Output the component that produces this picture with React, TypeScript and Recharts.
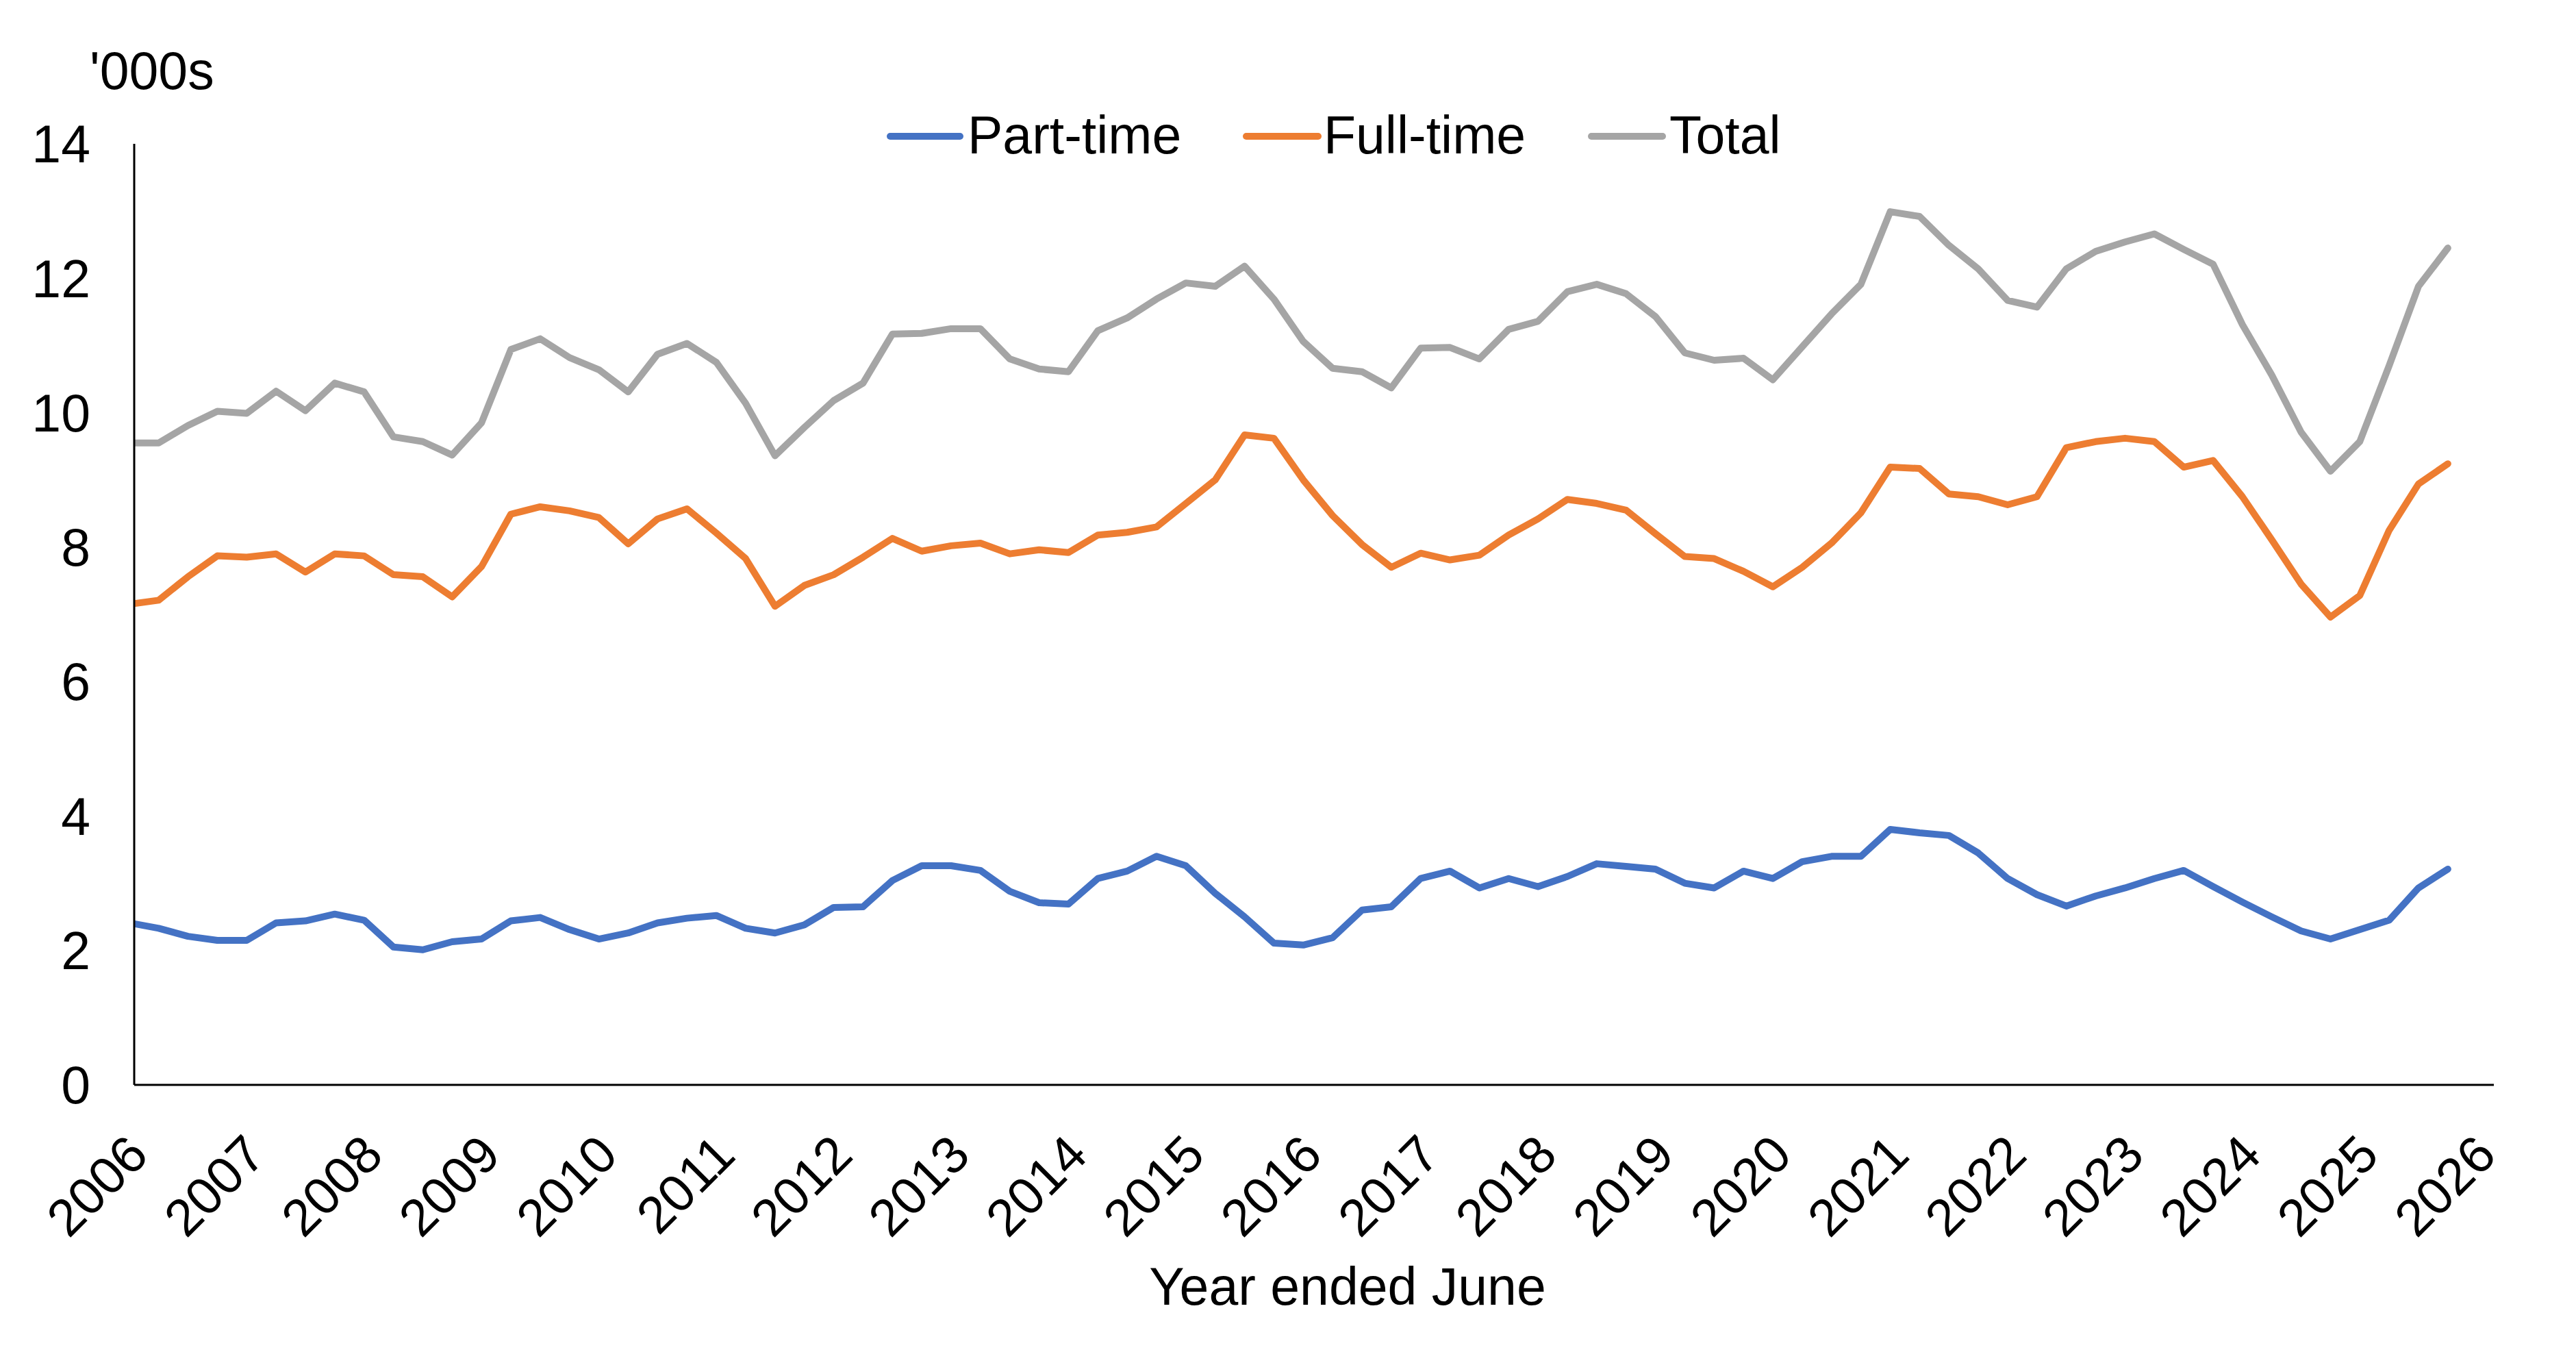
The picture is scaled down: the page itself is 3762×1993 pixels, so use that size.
import { Line, LineChart, XAxis, YAxis } from 'recharts';

const WIDTH = 3762;
const HEIGHT = 1993;
const FONT = '"Liberation Sans", Arial, Helvetica, sans-serif';

const BLUE = '#4472C4';
const ORANGE = '#ED7D31';
const GREY = '#A5A5A5';

// Quarter ends (year-month), rolling annual figures
const quarterEnds = [
  '2005-12', '2006-03', '2006-06', '2006-09', '2006-12', '2007-03', '2007-06', '2007-09', '2007-12', '2008-03',
  '2008-06', '2008-09', '2008-12', '2009-03', '2009-06', '2009-09', '2009-12', '2010-03', '2010-06', '2010-09',
  '2010-12', '2011-03', '2011-06', '2011-09', '2011-12', '2012-03', '2012-06', '2012-09', '2012-12', '2013-03',
  '2013-06', '2013-09', '2013-12', '2014-03', '2014-06', '2014-09', '2014-12', '2015-03', '2015-06', '2015-09',
  '2015-12', '2016-03', '2016-06', '2016-09', '2016-12', '2017-03', '2017-06', '2017-09', '2017-12', '2018-03',
  '2018-06', '2018-09', '2018-12', '2019-03', '2019-06', '2019-09', '2019-12', '2020-03', '2020-06', '2020-09',
  '2020-12', '2021-03', '2021-06', '2021-09', '2021-12', '2022-03', '2022-06', '2022-09', '2022-12', '2023-03',
  '2023-06', '2023-09', '2023-12', '2024-03', '2024-06', '2024-09', '2024-12', '2025-03', '2025-06', '2025-09',
];

// '000s
const partTime = [
  2.41, 2.33, 2.21, 2.15, 2.15, 2.41, 2.44, 2.54, 2.45, 2.05,
  2.01, 2.13, 2.17, 2.44, 2.49, 2.31, 2.17, 2.26, 2.41, 2.48,
  2.52, 2.33, 2.26, 2.38, 2.64, 2.65, 3.04, 3.26, 3.26, 3.19,
  2.88, 2.71, 2.69, 3.07, 3.18, 3.4, 3.26, 2.85, 2.5, 2.11,
  2.08, 2.19, 2.6, 2.65, 3.07, 3.18, 2.93, 3.07, 2.95, 3.1,
  3.29, 3.25, 3.21, 3.0, 2.93, 3.18, 3.07, 3.32, 3.4, 3.4,
  3.8, 3.75, 3.71, 3.45, 3.07, 2.83, 2.66, 2.81, 2.93, 3.07,
  3.19, 2.95, 2.72, 2.5, 2.29, 2.17, 2.31, 2.45, 2.93, 3.21,
];

const fullTime = [
  7.15, 7.21, 7.56, 7.87, 7.85, 7.9, 7.63, 7.9, 7.87, 7.59,
  7.56, 7.26, 7.71, 8.49, 8.6, 8.54, 8.44, 8.05, 8.42, 8.57,
  8.21, 7.83, 7.12, 7.43, 7.59, 7.85, 8.13, 7.94, 8.02, 8.06,
  7.9, 7.96, 7.92, 8.18, 8.22, 8.3, 8.65, 9.0, 9.67, 9.62,
  9.0, 8.47, 8.04, 7.7, 7.91, 7.81, 7.88, 8.18, 8.42, 8.71,
  8.65, 8.55, 8.2, 7.86, 7.83, 7.64, 7.41, 7.7, 8.06, 8.51,
  9.19, 9.17, 8.79, 8.75, 8.63, 8.75, 9.48, 9.57, 9.62, 9.57,
  9.19, 9.29, 8.75, 8.11, 7.45, 6.96, 7.28, 8.25, 8.94, 9.24,
];

const total = [
  9.55, 9.55, 9.81, 10.02, 9.99, 10.32, 10.03, 10.44, 10.31, 9.64,
  9.57, 9.37, 9.85, 10.94, 11.1, 10.82, 10.64, 10.31, 10.87, 11.03,
  10.75, 10.14, 9.36, 9.78, 10.18, 10.44, 11.17, 11.18, 11.25, 11.25,
  10.8, 10.65, 10.61, 11.22, 11.41, 11.69, 11.93, 11.88, 12.18, 11.69,
  11.06, 10.66, 10.61, 10.37, 10.96, 10.97, 10.8, 11.24, 11.36, 11.8,
  11.91, 11.77, 11.43, 10.89, 10.78, 10.81, 10.49, 10.98, 11.47, 11.91,
  12.99, 12.92, 12.49, 12.14, 11.67, 11.57, 12.14, 12.4, 12.54, 12.66,
  12.43, 12.21, 11.31, 10.56, 9.71, 9.13, 9.57, 10.7, 11.88, 12.45,
];

const yearTicks = [
  2006, 2007, 2008, 2009, 2010, 2011, 2012, 2013, 2014, 2015, 2016,
  2017, 2018, 2019, 2020, 2021, 2022, 2023, 2024, 2025, 2026,
];
const valueTicks = [0, 2, 4, 6, 8, 10, 12, 14];

const legendItems = [
  { label: 'Part-time', color: BLUE },
  { label: 'Full-time', color: ORANGE },
  { label: 'Total', color: GREY },
];

// each quarter is plotted at the middle of its closing month, in decimal years
const data = quarterEnds.map((q, i) => {
  const [year, month] = q.split('-').map(Number);
  return {
    quarter: q,
    t: year + (month - 0.5) / 12,
    partTime: partTime[i],
    fullTime: fullTime[i],
    total: total[i],
  };
});

function YearTick(props: any) {
  const { x, y, payload } = props;
  const ax = x + 24;
  const ay = y + 106;
  return (
    <text
      x={ax}
      y={ay}
      transform={`rotate(-45, ${ax}, ${ay})`}
      textAnchor="end"
      fontSize={76}
      fontFamily={FONT}
      fill="#000"
    >
      {payload.value}
    </text>
  );
}

// legend swatch/label positions along the top row
const legendLayout = [
  { x1: 1300, x2: 1402, tx: 1413 },
  { x1: 1820, x2: 1925, tx: 1933 },
  { x1: 2324, x2: 2428, tx: 2438 },
];

const lineProps = {
  strokeWidth: 10,
  strokeLinejoin: 'round' as const,
  strokeLinecap: 'round' as const,
  dot: false,
  activeDot: false,
  isAnimationActive: false,
};

export default function App() {
  return (
    <div
      style={{
        position: 'absolute',
        left: 0,
        top: 0,
        width: WIDTH,
        height: HEIGHT,
        background: '#fff',
      }}
    >
      <LineChart
        width={WIDTH}
        height={HEIGHT}
        data={data}
        margin={{ top: 210, right: 120, bottom: 209, left: 0 }}
      >
        <XAxis
          dataKey="t"
          type="number"
          domain={[2006, 2026.1]}
          ticks={yearTicks}
          interval={0}
          allowDataOverflow
          height={200}
          tickLine={false}
          tickSize={0}
          tickMargin={0}
          axisLine={{ stroke: '#000', strokeWidth: 3 }}
          tick={(p: any) => <YearTick {...p} />}
        />
        <YAxis
          type="number"
          domain={[0, 14]}
          ticks={valueTicks}
          interval={0}
          width={196}
          tickLine={false}
          tickSize={0}
          tickMargin={64}
          axisLine={{ stroke: '#000', strokeWidth: 3 }}
          tick={{ fill: '#000', fontSize: 77, fontFamily: FONT }}
        />
        <Line dataKey="partTime" stroke={BLUE} {...lineProps} />
        <Line dataKey="fullTime" stroke={ORANGE} {...lineProps} />
        <Line dataKey="total" stroke={GREY} {...lineProps} />
      </LineChart>

      <svg
        width={WIDTH}
        height={HEIGHT}
        style={{ position: 'absolute', left: 0, top: 0, pointerEvents: 'none' }}
        fontFamily={FONT}
      >
        <text x={131} y={130} fontSize={77} fill="#000">
          '000s
        </text>
        {legendItems.map((item, i) => (
          <g key={item.label}>
            <line
              x1={legendLayout[i].x1}
              x2={legendLayout[i].x2}
              y1={199}
              y2={199}
              stroke={item.color}
              strokeWidth={10}
              strokeLinecap="round"
            />
            <text x={legendLayout[i].tx} y={224} fontSize={77} fill="#000">
              {item.label}
            </text>
          </g>
        ))}
        <text x={1968} y={1905} fontSize={77} textAnchor="middle" fill="#000">
          Year ended June
        </text>
      </svg>
    </div>
  );
}
